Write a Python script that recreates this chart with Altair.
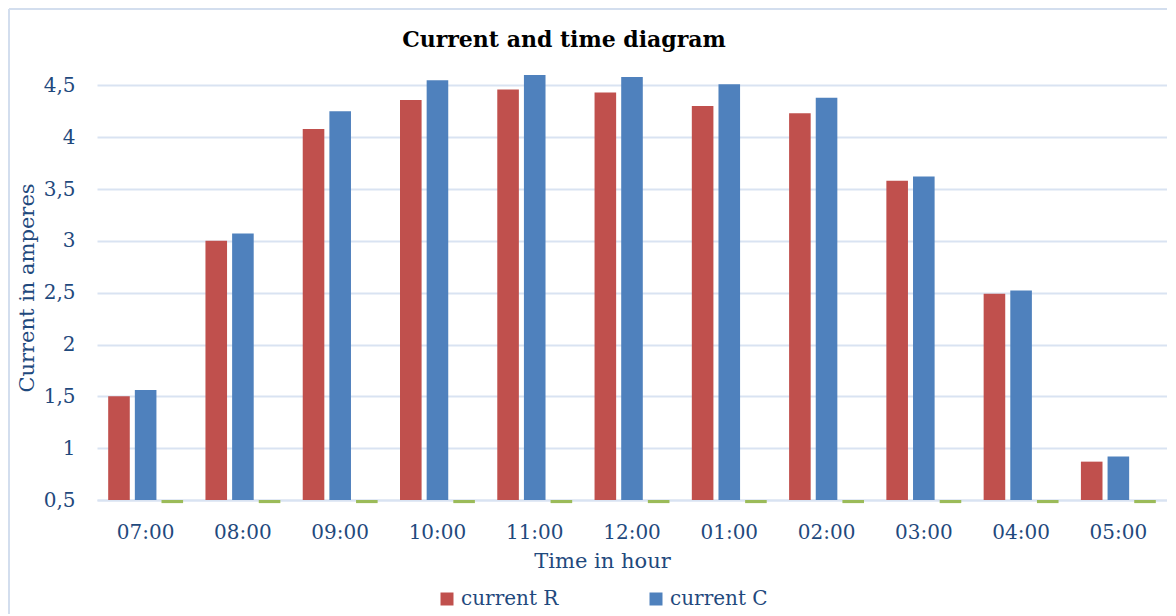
import altair as alt
import pandas as pd

hours = ["07:00", "08:00", "09:00", "10:00", "11:00", "12:00",
         "01:00", "02:00", "03:00", "04:00", "05:00"]
current_r = [1.50, 3.00, 4.08, 4.36, 4.46, 4.43, 4.30, 4.23, 3.58, 2.49, 0.87]
current_c = [1.56, 3.07, 4.25, 4.55, 4.60, 4.58, 4.51, 4.38, 3.62, 2.52, 0.92]
series_3 = [0.47] * 11
series_names = ["current R", "current C", "series 3"]
series_colors = ["#C0504D", "#4F81BD", "#9BBB59"]
y_ticks = [0.5, 1, 1.5, 2, 2.5, 3, 3.5, 4, 4.5]

rows = []
for name, vals in zip(series_names, [current_r, current_c, series_3]):
    for h, v in zip(hours, vals):
        rows.append({"hour": h, "series": name, "value": v})
df = pd.DataFrame(rows)

FONT = "DejaVu Serif"
TXT = "#1F497D"
GRID = "#D9E3F2"

bars = alt.Chart(df).mark_bar().encode(
    x=alt.X("hour:N", sort=hours,
            scale=alt.Scale(paddingInner=0.23, paddingOuter=0.115),
            axis=alt.Axis(title="Time in hour", labelAngle=0, ticks=False,
                          domain=True, domainColor=GRID, domainWidth=2,
                          labelFont=FONT, labelFontSize=20, labelColor=TXT,
                          labelPadding=22, titleFont=FONT, titleFontSize=21,
                          titleFontWeight="normal", titleColor=TXT,
                          titleX=505, titleY=50, titleBaseline="top")),
    xOffset=alt.XOffset("series:N", sort=series_names,
                        scale=alt.Scale(paddingInner=0.19, paddingOuter=0)),
    y=alt.Y("value:Q",
            scale=alt.Scale(domain=[0.5, 4.6], nice=False, zero=False),
            axis=alt.Axis(title="Current in amperes", values=y_ticks,
                          labelExpr="replace(format(datum.value, '.1~f'), '.', ',')",
                          grid=True, gridColor=GRID, gridWidth=2,
                          domain=False, ticks=False, labelPadding=22,
                          labelFont=FONT, labelFontSize=20, labelColor=TXT,
                          titleFont=FONT, titleFontSize=21,
                          titleFontWeight="normal", titleColor=TXT,
                          titlePadding=6)),
    y2=alt.datum(0.5),
    color=alt.Color("series:N", sort=series_names,
                    scale=alt.Scale(domain=series_names, range=series_colors),
                    legend=alt.Legend(title=None, values=series_names[:2],
                                      orient="none", legendX=340, legendY=514,
                                      direction="horizontal", columnPadding=87,
                                      symbolType="square", symbolSize=169,
                                      symbolStrokeWidth=0, labelFont=FONT,
                                      labelFontSize=20, labelColor=TXT,
                                      labelOffset=4)),
)

frame_data = alt.Data(values=[{"k": 1}])
frame_left = alt.Chart(frame_data).mark_rule(color="#D3DEEE", strokeWidth=2).encode(
    x=alt.value(-88), y=alt.value(-66), y2=alt.value(546))
frame_top = alt.Chart(frame_data).mark_rule(color="#D3DEEE", strokeWidth=2).encode(
    x=alt.value(-88), x2=alt.value(1072), y=alt.value(-66))

chart = alt.layer(frame_left, frame_top, bars).properties(
    width=1070, height=425,
    background="white",
    autosize=alt.AutoSizeParams(type="none"),
    padding={"left": 89, "top": 67, "right": 0, "bottom": 114},
    title=alt.TitleParams("Current and time diagram", font=FONT, fontSize=22,
                          fontWeight="bold", color="black", anchor="middle",
                          frame="group", dx=-68, offset=-61,
                          baseline="alphabetic"),
).configure_view(strokeWidth=0, stroke="transparent")

chart.save("out.html", embed_options={"renderer": "svg", "actions": False})
